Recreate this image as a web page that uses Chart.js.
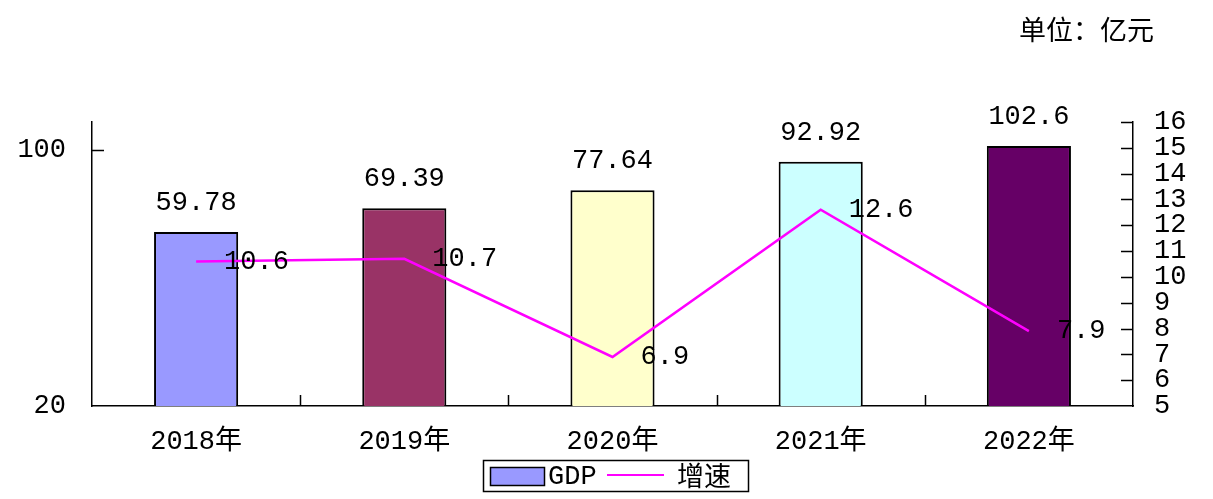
<!DOCTYPE html>
<html>
<head>
<meta charset="utf-8">
<script src="https://cdn.jsdelivr.net/npm/chart.js@4.4.0/dist/chart.umd.min.js"></script>
<style>
  html, body { margin: 0; padding: 0; background: #fff; }
  #wrap { width: 1213px; height: 499px; }
</style>
</head>
<body>
<div id="wrap"><canvas id="gdpChart" width="1213" height="499"></canvas></div>
<script>
const years = ["2018年", "2019年", "2020年", "2021年", "2022年"];
const gdp = [59.78, 69.39, 77.64, 92.92, 102.6];
const growth = [10.6, 10.7, 6.9, 12.6, 7.9];
const barColors = ["#9999FF", "#993366", "#FFFFCC", "#CCFFFF", "#660066"];
const leftTicks = [20, 100];
const rightTicks = [5, 6, 7, 8, 9, 10, 11, 12, 13, 14, 15, 16];
const unitText = "单位：亿元";

const monoFont = '"Liberation Mono", "Noto Sans CJK SC", monospace';

// little inward tick marks, value labels, legend and unit text
const extras = {
    id: "extras",
    afterDraw(chart) {
        const ctx = chart.ctx;
        const area = chart.chartArea;
        const x = chart.scales.x;
        const y = chart.scales.y;
        const y1 = chart.scales.y1;

        ctx.save();
        ctx.strokeStyle = "#000";
        ctx.lineWidth = 1.5;
        ctx.beginPath();
        // left axis ticks (inward)
        leftTicks.forEach(v => {
            if (v === y.min) return;
            const py = Math.round(y.getPixelForValue(v)) + 0.5;
            ctx.moveTo(area.left, py);
            ctx.lineTo(area.left + 12, py);
        });
        // right axis ticks (inward)
        rightTicks.forEach(v => {
            if (v === y1.min) return;
            const py = Math.round(y1.getPixelForValue(v)) + 0.5;
            ctx.moveTo(area.right, py);
            ctx.lineTo(area.right - 12, py);
        });
        // category separators on x axis
        for (let i = 1; i < years.length; i++) {
            const px = Math.round((x.getPixelForValue(i - 1) + x.getPixelForValue(i)) / 2) + 0.5;
            ctx.moveTo(px, area.bottom);
            ctx.lineTo(px, area.bottom - 11);
        }
        ctx.stroke();

        // value labels
        ctx.fillStyle = "#000";
        ctx.font = "27px " + monoFont;
        const barMeta = chart.getDatasetMeta(0);
        barMeta.data.forEach((bar, i) => {
            ctx.textAlign = "center";
            ctx.textBaseline = "alphabetic";
            ctx.fillText(String(gdp[i]), bar.x, bar.y - 22);
        });
        const lineMeta = chart.getDatasetMeta(1);
        lineMeta.data.forEach((pt, i) => {
            ctx.textAlign = "left";
            ctx.textBaseline = "middle";
            ctx.fillText(growth[i].toFixed(1), pt.x + 28, pt.y);
        });

        // legend
        const lx = 483, ly = 460, lw = 265, lh = 31;
        ctx.fillStyle = "#fff";
        ctx.fillRect(lx, ly, lw, lh);
        ctx.strokeRect(lx + 0.5, ly + 0.5, lw, lh);
        const ds = chart.data.datasets;
        ctx.fillStyle = ds[0].backgroundColor[0];
        ctx.fillRect(490, 467, 54, 18);
        ctx.strokeRect(490.5, 467.5, 54, 18);
        ctx.fillStyle = "#000";
        ctx.textAlign = "left";
        ctx.textBaseline = "middle";
        ctx.fillText(ds[0].label, 548, 477);
        ctx.strokeStyle = ds[1].borderColor;
        ctx.lineWidth = 2;
        ctx.beginPath();
        ctx.moveTo(607, 475);
        ctx.lineTo(664, 475);
        ctx.stroke();
        ctx.fillStyle = "#000";
        ctx.font = '27px "Noto Sans CJK SC"';
        ctx.fillText(ds[1].label, 677, 476);

        // unit
        ctx.font = '27px "Noto Sans CJK SC"';
        ctx.textBaseline = "middle";
        ctx.fillText(unitText, 1019, 30);
        ctx.restore();
    }
};

new Chart(document.getElementById("gdpChart"), {
    data: {
        labels: years,
        datasets: [
            {
                type: "bar",
                label: "GDP",
                data: gdp,
                yAxisID: "y",
                backgroundColor: barColors,
                borderColor: "#000",
                borderWidth: 2,
                barPercentage: 0.404,
                categoryPercentage: 1,
                order: 2,
            },
            {
                type: "line",
                label: "增速",
                data: growth,
                yAxisID: "y1",
                borderColor: "#FF00FF",
                borderWidth: 2.5,
                pointRadius: 0,
                tension: 0,
                fill: false,
                order: 1,
            },
        ],
    },
    options: {
        responsive: false,
        animation: false,
        layout: { padding: { top: 122, left: 0, right: 0, bottom: 0 } },
        plugins: {
            legend: { display: false },
            tooltip: { enabled: false },
        },
        scales: {
            x: {
                offset: true,
                grid: { display: false },
                border: { display: true, color: "#000", width: 1.5 },
                ticks: { color: "#000", font: { family: monoFont, size: 27 }, padding: 12, maxRotation: 0 },
                afterFit(s) { s.height = 93; },
            },
            y: {
                type: "logarithmic",
                position: "left",
                min: 20,
                max: 119.3,
                grid: { display: false },
                border: { display: true, color: "#000", width: 1.5 },
                afterBuildTicks(s) { s.ticks = leftTicks.map(v => ({ value: v })); },
                ticks: { color: "#000", font: { family: monoFont, size: 27 }, padding: 18, callback: v => String(v) },
                afterFit(s) { s.width = 92; },
            },
            y1: {
                type: "linear",
                position: "right",
                min: 5,
                max: 16,
                grid: { display: false },
                border: { display: true, color: "#000", width: 1.5 },
                afterBuildTicks(s) { s.ticks = rightTicks.map(v => ({ value: v })); },
                ticks: { color: "#000", font: { family: monoFont, size: 27 }, padding: 13, autoSkip: false },
                afterFit(s) { s.width = 80; },
            },
        },
    },
    plugins: [extras],
});
</script>
</body>
</html>
